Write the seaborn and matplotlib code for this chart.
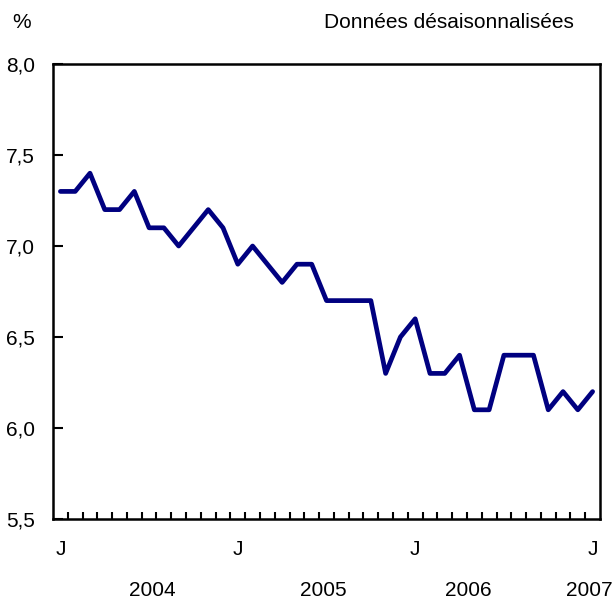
import numpy as np
import pandas as pd
import seaborn as sns
import matplotlib.pyplot as plt
import matplotlib.transforms as mtransforms

# taux de chômage mensuel, janvier 2004 à janvier 2007
months = list(range(37))
taux = [7.3, 7.3, 7.4, 7.2, 7.2, 7.3, 7.1, 7.1, 7.0, 7.1, 7.2, 7.1,
        6.9, 7.0, 6.9, 6.8, 6.9, 6.9, 6.7, 6.7, 6.7, 6.7, 6.3, 6.5,
        6.6, 6.3, 6.3, 6.4, 6.1, 6.1, 6.4, 6.4, 6.4, 6.1, 6.2, 6.1,
        6.2]
j_pos = [0, 12, 24, 36]
j_labels = ["J", "J", "J", "J"]
years = ["2004", "2005", "2006", "2007"]
year_pos = [6.25, 17.8, 27.6, 35.8]
y_ticks = [5.5, 6.0, 6.5, 7.0, 7.5, 8.0]

df = pd.DataFrame({"mois": months, "taux": taux})

sns.set_style("ticks")
plt.rcParams["font.family"] = ["Liberation Sans", "DejaVu Sans"]
plt.rcParams["text.color"] = "black"
plt.rcParams["xtick.color"] = "black"
plt.rcParams["ytick.color"] = "black"
fs = 15

fig = plt.figure(figsize=(6.15, 6.0), dpi=100)
ax = fig.add_axes([0.0862, 0.135, 0.8894, 0.7583])

sns.lineplot(data=df, x="mois", y="taux", ax=ax, color="#000080", linewidth=3.4)

ax.set_xlim(-0.5, 36.5)
ax.set_ylim(5.5, 8.0)
ax.set_xlabel("")
ax.set_ylabel("")

# tirets entre les mois
ax.set_xticks([m + 0.5 for m in months[:-1]])
ax.set_xticklabels([])
ax.tick_params(axis="x", which="major", direction="in", length=5, width=1.5)
ax.set_xticks(j_pos, minor=True)
ax.set_xticklabels(j_labels, minor=True)
ax.tick_params(axis="x", which="minor", length=0, pad=15, labelsize=fs)

ax.set_yticks(y_ticks)
ax.set_yticklabels([f"{v:.1f}".replace(".", ",") for v in y_ticks])
ax.tick_params(axis="y", direction="in", length=7, width=1.5, pad=13, labelsize=fs)

for s in ax.spines.values():
    s.set_visible(True)
    s.set_linewidth(1.8)
    s.set_color("black")

trans = mtransforms.blended_transform_factory(ax.transData, fig.transFigure)
for yr, pos in zip(years, year_pos):
    ax.text(pos, 1 - 590 / 600, yr, transform=trans, ha="center", va="center", fontsize=fs)

fig.text(12 / 615, 1 - 22 / 600, "%", ha="left", va="center", fontsize=fs)
fig.text(574 / 615, 1 - 22 / 600, "Données désaisonnalisées", ha="right", va="center", fontsize=fs)

fig.savefig("out.png", dpi=100)
